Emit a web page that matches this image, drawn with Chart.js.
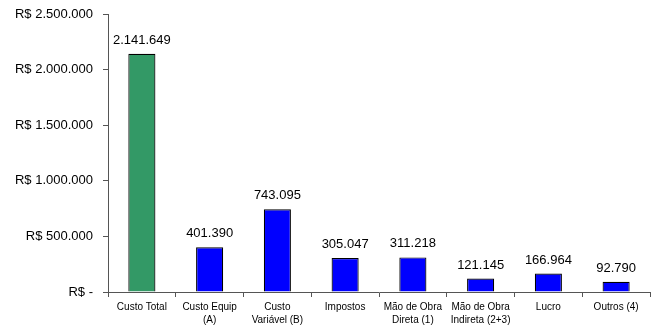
<!DOCTYPE html>
<html><head><meta charset="utf-8">
<script src="https://cdn.jsdelivr.net/npm/chart.js@4/dist/chart.umd.min.js"></script>
<style>html,body{margin:0;padding:0;background:#fff}#wrap{width:655px;height:327px}</style>
</head><body><div id="wrap"><canvas id="c" width="655" height="327"></canvas></div>
<script>
const categories = [["Custo Total"],["Custo Equip","(A)"],["Custo","Variável (B)"],["Impostos"],["Mão de Obra","Direta (1)"],["Mão de Obra","Indireta (2+3)"],["Lucro"],["Outros (4)"]];
const values = [2141649, 401390, 743095, 305047, 311218, 121145, 166964, 92790];
const barColors = ["#339966","#0000FF","#0000FF","#0000FF","#0000FF","#0000FF","#0000FF","#0000FF"];
const yTicks = [0, 500000, 1000000, 1500000, 2000000, 2500000];

function fmt(v){ return v.toString().replace(/\B(?=(\d{3})+(?!\d))/g, "."); }

const labelPlugin = {
  id: 'vlabels',
  afterDatasetsDraw(chart){
    const ctx = chart.ctx;
    const meta = chart.getDatasetMeta(0);
    ctx.save();
    ctx.font = '13px "Liberation Sans", Arial, sans-serif';
    ctx.fillStyle = '#000';
    ctx.textAlign = 'center';
    ctx.textBaseline = 'bottom';
    meta.data.forEach((bar, i) => {
      ctx.fillText(fmt(values[i]), bar.x, bar.y - 7);
    });
    ctx.restore();
  }
};

new Chart(document.getElementById('c'), {
  type: 'bar',
  data: {
    labels: categories,
    datasets: [{
      data: values,
      backgroundColor: barColors,
      borderColor: '#000',
      borderWidth: 1.2,
      categoryPercentage: 1,
      barPercentage: 0.4
    }]
  },
  options: {
    responsive: false,
    animation: false,
    devicePixelRatio: 1,
    layout: { padding: { top: 14, right: 5, left: 0, bottom: 0 } },
    plugins: { legend: { display: false }, tooltip: { enabled: false } },
    scales: {
      x: {
        grid: { display: true, drawOnChartArea: false, drawTicks: true, tickLength: 5, color: '#555', offset: true },
        border: { display: true, color: '#555', width: 1 },
        ticks: { color: '#000', font: { family: '"Liberation Sans", Arial, sans-serif', size: 10, lineHeight: 1.35 }, maxRotation: 0, autoSkip: false, padding: 3 },
        afterFit(s){ s.height = 35; }
      },
      y: {
        min: 0, max: 2500000,
        afterBuildTicks(s){ s.ticks = yTicks.map(v => ({value: v})); },
        grid: { display: true, drawOnChartArea: false, drawTicks: true, tickLength: 5, color: '#555' },
        border: { display: true, color: '#555', width: 1 },
        ticks: {
          color: '#000', padding: 10,
          font: { family: '"Liberation Sans", Arial, sans-serif', size: 13 },
          callback(v){ return v === 0 ? 'R$ -' : 'R$ ' + fmt(v); }
        },
        afterFit(s){ s.width = 108; s.paddingTop = 0; s.paddingBottom = 0; }
      }
    }
  },
  plugins: [labelPlugin]
});
</script></body></html>
